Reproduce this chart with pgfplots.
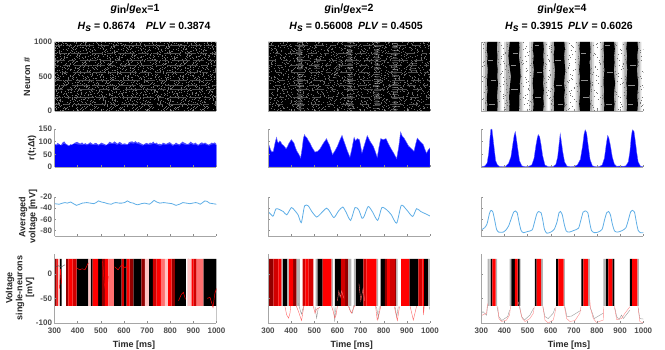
\documentclass[border=0pt]{standalone}
\usepackage{pgfplots}
\pgfplotsset{compat=1.18}
\usepackage{fontspec}
\setmainfont{Liberation Sans}

\definecolor{avgblue}{HTML}{5FAEE6}
\definecolor{Dk}{HTML}{920000}
\definecolor{Md}{HTML}{D20000}
\definecolor{Br}{HTML}{FF0000}
\definecolor{Pk}{HTML}{FF7070}
\definecolor{Lt}{HTML}{FFC4C4}
\definecolor{Gy}{HTML}{B4B4B4}

\pgfplotsset{
  panel/.style={
    scale only axis, width=162pt,
    xmin=300, xmax=1000, xtick={300,400,...,1000},
    axis lines=left, axis line style={-,black!35,line width=0.5pt},
    tick align=inside, major tick length=1.5pt,
    tick style={black!45,line width=0.4pt},
    tick label style={font=\bfseries\fontsize{8}{9}\selectfont,text=black!70},
    /pgf/number format/assume math mode=true,
    /pgf/number format/1000 sep={},
    xticklabels={}, axis on top, anchor=south west,
    xticklabel style={yshift=-1pt},
    yticklabel style={xshift=1pt},
  },
  raster/.style={panel, height=69pt, ymin=0, ymax=1000, ytick={0,500,1000}},
  rate/.style={panel, height=38pt, ymin=0, ymax=150, ytick={0,50,100,150}},
  avg/.style={panel, height=39pt, ymin=-90, ymax=-20, ytick={-80,-60,-40,-20}},
  volt/.style={panel, height=69pt, ymin=-100, ymax=40, ytick={-100,-50,0},
    xticklabels={300,400,500,600,700,800,900,1000}},
  nolab/.style={yticklabels={}},
  rowline/.style={draw=#1, line width=0.4pt, unbounded coords=jump},
}

% one band per colour, value high from x to the next x
\newcommand{\band}[2]{\addplot[const plot,fill=#1,draw=none] coordinates {(250,-100) #2 (1100,-100)} --cycle;}
\newcommand{\rband}[2]{\addplot[const plot,fill=#1,draw=none] coordinates {#2} \closedcycle;}
\newcommand{\voltfloor}{\addplot[fill=white,draw=none] coordinates {(250,-66)(1100,-66)(1100,-120)(250,-120)} --cycle;}

% rows of neurons in the raster plots
\def\rowsA{(283,7)(1000,7)(300,nan)(171,22)(1000,22)(300,nan)(296,36)(1000,36)(300,nan)(62,51)(1000,51)(300,nan)
(188,65)(1000,65)(300,nan)(276,79)(1000,79)(300,nan)(99,94)(1000,94)(300,nan)(265,108)(1000,108)(300,nan)
(181,123)(1000,123)(300,nan)(41,137)(1000,137)(300,nan)(269,152)(1000,152)(300,nan)(135,166)(1000,166)(300,nan)
(258,181)(1000,181)(300,nan)(94,195)(1000,195)(300,nan)(223,210)(1000,210)(300,nan)(17,224)(1000,224)(300,nan)
(164,239)(1000,239)(300,nan)(297,253)(1000,253)(300,nan)(78,268)(1000,268)(300,nan)(210,282)(1000,282)(300,nan)
(120,297)(1000,297)(300,nan)(270,311)(1000,311)(300,nan)(34,326)(1000,326)(300,nan)(196,340)(1000,340)(300,nan)
(148,355)(1000,355)(300,nan)(275,369)(1000,369)(300,nan)(61,384)(1000,384)(300,nan)(239,398)(1000,398)(300,nan)
(109,413)(1000,413)(300,nan)(167,427)(1000,427)(300,nan)(293,442)(1000,442)(300,nan)(22,456)(1000,456)(300,nan)
(186,471)(1000,471)(300,nan)(259,485)(1000,485)(300,nan)(85,500)(1000,500)(300,nan)(127,514)(1000,514)(300,nan)
(213,529)(1000,529)(300,nan)(52,543)(1000,543)(300,nan)(280,558)(1000,558)(300,nan)(158,572)(1000,572)(300,nan)
(29,587)(1000,587)(300,nan)(234,601)(1000,601)(300,nan)(107,616)(1000,616)(300,nan)(288,630)(1000,630)(300,nan)
(72,645)(1000,645)(300,nan)(175,659)(1000,659)(300,nan)(246,674)(1000,674)(300,nan)(11,688)(1000,688)(300,nan)
(139,703)(1000,703)(300,nan)(260,717)(1000,717)(300,nan)(91,732)(1000,732)(300,nan)(203,746)(1000,746)(300,nan)
(49,761)(1000,761)(300,nan)(298,775)(1000,775)(300,nan)(153,790)(1000,790)(300,nan)(115,804)(1000,804)(300,nan)
(224,819)(1000,819)(300,nan)(68,833)(1000,833)(300,nan)(267,848)(1000,848)(300,nan)(37,862)(1000,862)(300,nan)
(183,877)(1000,877)(300,nan)(97,891)(1000,891)(300,nan)(258,906)(1000,906)(300,nan)(131,920)(1000,920)(300,nan)
(25,935)(1000,935)(300,nan)(216,949)(1000,949)(300,nan)(75,964)(1000,964)(300,nan)(295,978)(1000,978)(300,nan)
(144,993)(1000,993)(300,nan)}
\def\streaks{(276,92)(1000,92)(300,nan)(291,314)(1000,314)(300,nan)(265,377)(1000,377)(300,nan)(283,449)(1000,449)(300,nan)
(270,667)(1000,667)(300,nan)(296,739)(1000,739)(300,nan)(261,835)(1000,835)(300,nan)(287,947)(1000,947)(300,nan)
(279,205)(1000,205)(300,nan)(268,560)(1000,560)(300,nan)}

\begin{document}
\begin{tikzpicture}
\path[use as bounding box] (0pt,0pt) rectangle (665pt,350pt);

% ---------- column 1
\begin{axis}[raster, at={(54.5pt,239pt)}]
\rband{black}{(300,1000)(1000,0)}
\addplot[rowline=white!45!black, dash pattern=on 0.5pt off 2.4pt on 0.8pt off 6.1pt on 0.4pt off 1.7pt on 1.6pt off 9.3pt on 0.6pt off 4.1pt on 0.4pt off 3.3pt on 1.1pt off 7.7pt on 0.5pt off 2.9pt on 0.5pt off 11.3pt] coordinates {\rowsA};
\addplot[rowline=white!32!black, line width=0.5pt, dash pattern=on 11pt off 4pt on 6pt off 5pt on 17pt off 3.5pt] coordinates {\streaks};
\end{axis}
\begin{axis}[rate, at={(54.5pt,183pt)}]
\addplot[fill=blue!70,draw=none] coordinates {(300,92)(307,88)(314,95)(321,90)(328,86)(335,97)(342,101)(349,92)(356,88)(363,84)(370,90)(377,84)(384,94)(391,97)(398,99)(405,95)(412,92)(419,97)(426,90)(433,94)(440,90)(447,92)(454,98)(461,93)(468,90)(475,95)(482,94)(489,88)(496,91)(503,96)(510,93)(517,90)(524,87)(531,92)(538,100)(545,96)(552,95)(559,101)(566,96)(573,92)(580,99)(587,96)(594,90)(601,93)(608,92)(615,88)(622,98)(629,100)(636,101)(643,97)(650,102)(657,96)(664,98)(671,94)(678,91)(685,88)(692,93)(699,95)(706,91)(713,96)(720,94)(727,100)(734,92)(741,96)(748,90)(755,92)(762,89)(769,96)(776,93)(783,91)(790,95)(797,98)(804,94)(811,88)(818,90)(825,96)(832,92)(839,89)(846,94)(853,100)(860,96)(867,93)(874,90)(881,93)(888,100)(895,95)(902,92)(909,96)(916,90)(923,88)(930,94)(937,97)(944,93)(951,96)(958,92)(965,88)(972,91)(979,96)(986,94)(993,97)(1000,90)} \closedcycle;
\addplot[fill=blue,draw=none] coordinates {(300,87)(310,85)(320,89)(330,84)(340,92)(350,88)(360,82)(370,86)(380,90)(390,91)(400,89)(410,88)(420,87)(430,89)(440,85)(450,90)(460,88)(470,86)(480,88)(490,84)(500,89)(510,87)(520,84)(530,88)(540,92)(550,90)(560,92)(570,87)(580,91)(590,86)(600,88)(610,86)(620,90)(630,94)(640,92)(650,94)(660,91)(670,88)(680,84)(690,88)(700,89)(710,87)(720,89)(730,92)(740,89)(750,85)(760,84)(770,89)(780,87)(790,89)(800,90)(810,83)(820,87)(830,88)(840,84)(850,92)(860,89)(870,86)(880,87)(890,91)(900,87)(910,89)(920,83)(930,88)(940,89)(950,90)(960,86)(970,84)(980,89)(990,90)(1000,86)} \closedcycle;
\end{axis}
\begin{axis}[avg, at={(54.5pt,114pt)}]
\addplot[avgblue,line width=0.8pt] coordinates {(300,-32)(320,-33)(335,-31)(345,-30)(355,-31)(370,-29)(382,-32)(395,-35)(408,-33)(420,-31)(440,-30)(455,-31)(470,-32)(480,-30)(490,-27)(503,-29)(515,-30)(530,-32)(545,-33)(555,-31)(565,-30)(580,-31)(590,-31)(603,-30)(615,-27)(628,-30)(640,-31)(650,-33)(660,-34)(675,-32)(690,-31)(700,-32)(710,-33)(720,-30)(730,-26)(742,-29)(755,-31)(772,-30)(790,-31)(808,-32)(825,-35)(840,-33)(855,-30)(870,-31)(885,-32)(897,-31)(910,-30)(920,-31)(930,-33)(940,-30)(950,-27)(960,-28)(970,-31)(985,-32)(1000,-33)};
\end{axis}
\begin{axis}[volt, at={(54.5pt,27pt)}]
\band{black}{(322,30)(331,-100)(396,30)(446,-100)(456,30)(465,-100)(489,30)(505,-100)(557,30)(590,-100)(600,30)(612,-100)(641,30)(675,-100)(708,30)(725,-100)(820,30)(868,-100)(943,30)(1000,-100)}
\band{Dk}{(300,30)(309,-100)(350,30)(360,-100)(505,30)(518,-100)(625,30)(641,-100)(675,30)(691,-100)(806,30)(820,-100)(876,30)(880,-100)}
\band{Md}{(378,30)(396,-100)(590,30)(600,-100)(725,30)(741,-100)(900,30)(914,-100)}
\band{Br}{(309,30)(315,-100)(360,30)(378,-100)(465,30)(489,-100)(518,30)(533,-100)(612,30)(625,-100)(741,30)(760,-100)(790,30)(806,-100)(892,30)(900,-100)}
\band{Pk}{(533,30)(557,-100)(760,30)(777,-100)(914,30)(943,-100)}
\band{Lt}{(315,30)(322,-100)(446,30)(456,-100)(691,30)(708,-100)(777,30)(790,-100)(876,30)(892,-100)}
\voltfloor
\addplot[black!70,line width=0.4pt] coordinates {(305,14)(318,16)(330,14)(345,18)};
\addplot[Br,line width=0.5pt,unbounded coords=jump] coordinates {(396,12)(408,8)(420,10)(432,8)(446,22)(300,nan)(322,-30)(326,10)(331,-20)(300,nan)(508,25)(515,-20)(525,-45)(532,-5)(300,nan)(836,-55)(848,-42)(857,-38)(866,-52)(300,nan)(960,-50)(972,-48)(985,-68)(993,-40)(1000,-30)(300,nan)(560,14)(575,8)(590,18)(605,12)(620,20)};
\end{axis}

% ---------- column 2
\begin{axis}[raster, nolab, at={(268pt,239pt)}]
\rband{black}{(300,1000)(1000,0)}
\addplot[rowline=white!42!black, dash pattern=on 0.5pt off 3.4pt on 0.8pt off 8.1pt on 0.4pt off 2.7pt on 1.6pt off 12.3pt on 0.6pt off 5.1pt on 0.4pt off 4.3pt on 1.1pt off 9.7pt on 0.5pt off 3.9pt on 0.5pt off 14.3pt] coordinates {\rowsA};
\addplot[draw=white,line width=6pt,opacity=0.25,unbounded coords=jump,dash pattern=on 0.4pt off 1.7pt on 0.7pt off 2.9pt on 0.4pt off 1.2pt] coordinates {(438,0)(438,1000)(300,nan)(654,0)(654,1000)(300,nan)(770,0)(770,1000)(300,nan)(849,-10)(849,1000)(300,nan)(510,760)(510,560)(300,nan)(925,700)(925,520)(300,nan)};
\addplot[draw=white,line width=3pt,opacity=0.45,unbounded coords=jump,dash pattern=on 0.5pt off 2.3pt on 0.4pt off 1.4pt] coordinates {(438,1000)(438,0)(300,nan)(849,0)(849,1000)(300,nan)(654,1000)(654,300)(300,nan)(770,1000)(770,100)(300,nan)(590,480)(615,760)(300,nan)};
\addplot[rowline=white!32!black, dash pattern=on 9pt off 7pt on 5pt off 9pt on 13pt off 6pt] coordinates {\streaks};
\end{axis}
\begin{axis}[rate, nolab, at={(268pt,183pt)}]
\addplot[fill=blue,draw=blue!60,line width=0.4pt] coordinates {(300,95)(306,82)(311,68)(317,59)(323,62)(327,80)(332,101)(337,117)(341,100)(346,95)(350,103)(355,99)(360,90)(366,86)(372,80)(378,72)(384,80)(389,91)(395,100)(401,108)(406,102)(412,95)(418,78)(424,64)(432,52)(441,36)(447,70)(453,114)(458,128)(462,120)(467,117)(474,105)(481,95)(490,78)(503,59)(514,62)(525,72)(538,92)(553,112)(559,98)(565,88)(572,68)(579,49)(590,65)(600,82)(610,105)(620,125)(625,110)(631,95)(642,66)(654,39)(662,70)(672,117)(678,104)(686,112)(695,108)(701,80)(706,55)(716,85)(729,124)(742,100)(755,82)(764,60)(772,38)(780,80)(787,112)(798,108)(810,112)(820,92)(830,75)(843,55)(856,33)(865,80)(873,138)(880,122)(888,114)(898,98)(908,82)(920,72)(931,62)(938,90)(945,114)(958,100)(971,88)(978,70)(985,55)(993,68)(1000,75)} \closedcycle;
\end{axis}
\begin{axis}[avg, nolab, at={(268pt,114pt)}]
\addplot[avgblue,line width=0.8pt,smooth,tension=0.4] coordinates {(300,-46)(317,-53)(323,-54)(335,-41)(352,-43)(366,-46)(381,-52)(401,-39)(415,-44)(430,-52)(444,-66)(458,-36)(474,-36)(489,-46)(510,-56)(525,-51)(553,-40)(568,-47)(585,-57)(605,-45)(623,-38)(637,-47)(657,-62)(676,-39)(692,-43)(706,-58)(715,-55)(733,-37)(752,-47)(774,-62)(792,-39)(813,-43)(833,-52)(856,-67)(876,-35)(899,-43)(925,-55)(942,-41)(960,-46)(985,-51)(1000,-54)};
\end{axis}
\begin{axis}[volt, nolab, at={(268pt,27pt)}]
\band{black}{(363,30)(384,-100)(513,30)(536,-100)(589,30)(615,-100)(679,30)(712,-100)(787,30)(805,-100)(911,30)(950,-100)(974,30)(993,-100)}
\band{Dk}{(300,30)(323,-100)(409,30)(424,-100)(633,30)(647,-100)(805,30)(815,-100)(849,30)(855,-100)}
\band{Md}{(323,30)(345,-100)(450,30)(462,-100)(615,30)(633,-100)(712,30)(725,-100)(827,30)(849,-100)(950,30)(967,-100)(474,30)(496,-100)}
\band{Br}{(345,30)(359,-100)(389,30)(409,-100)(462,30)(474,-100)(536,30)(575,-100)(725,30)(769,-100)(815,30)(827,-100)(875,30)(911,-100)(967,30)(974,-100)}
\band{Gy}{(359,30)(363,-100)(384,30)(389,-100)(424,30)(438,-100)(506,30)(513,-100)(575,30)(580,-100)(647,30)(660,-100)(671,30)(679,-100)(769,30)(776,-100)(855,30)(860,-100)(993,30)(1000,-100)}
\voltfloor
\addplot[black!40,line width=0.4pt,unbounded coords=jump] coordinates {(431,-60)(441,-77)(445,-82)(450,-72)(455,-66)(300,nan)(503,-67)(510,-90)(517,-70)(300,nan)(585,-67)(588,-97)(594,-67)(300,nan)(651,-67)(657,-77)(665,-80)(671,-64)(300,nan)(769,-67)(777,-90)(781,-67)(300,nan)(849,-67)(856,-87)(863,-67)(300,nan)(997,-67)(1000,-73)};
\addplot[Br!60,line width=0.4pt,unbounded coords=jump] coordinates {(373,-66)(381,-84)(389,-90)(395,-80)(398,-66)(300,nan)(421,-64)(432,-77)(445,-95)(450,-80)(456,-64)(300,nan)(496,-66)(503,-80)(510,-72)(525,-68)(300,nan)(575,-66)(582,-77)(588,-90)(594,-84)(600,-66)(300,nan)(647,-66)(654,-74)(661,-80)(669,-70)(676,-64)(300,nan)(765,-66)(772,-94)(781,-80)(787,-66)(300,nan)(846,-67)(859,-95)(868,-67)(300,nan)(914,-66)(928,-94)(942,-66)(300,nan)(971,-66)(972,-84)(975,-66)(300,nan)(600,-55)(606,-35)(612,-48)(618,-35)(628,-50)(300,nan)(693,-20)(701,-55)(711,-30)(718,-55)};
\end{axis}

% ---------- column 3
\begin{axis}[raster, nolab, at={(481.3pt,239pt)}]
\rband{black!14}{(308,1000)(387,0)(399,1000)(482,0)(507,1000)(586,0)(596,1000)(677,0)(708,1000)(787,0)(812,1000)(891,0)(910,1000)(992,0)}
\rband{black!32}{(316,1000)(379,0)(407,1000)(474,0)(515,1000)(578,0)(604,1000)(669,0)(716,1000)(779,0)(820,1000)(883,0)(918,1000)(984,0)}
\addplot[rowline=black!55, line width=0.4pt, dash pattern=on 0.4pt off 11.4pt on 0.4pt off 19.2pt on 0.4pt off 7.3pt on 0.4pt off 14.1pt on 0.4pt off 23.3pt] coordinates {\rowsA};
\addplot[fill=black,draw=none] coordinates {(326,1000)(324,900)(327,800)(325,700)(328,600)(326,500)(325,400)(327,300)(324,200)(326,100)(325,0)(369,0)(371,100)(368,200)(370,300)(372,400)(369,500)(371,600)(368,700)(370,800)(367,900)(369,1000)} --cycle;
\addplot[fill=black,draw=none] coordinates {(423,1000)(420,900)(417,800)(420,700)(424,600)(428,500)(425,400)(422,300)(420,200)(422,100)(421,0)(462,0)(465,100)(464,200)(467,300)(466,400)(470,500)(468,600)(466,700)(462,800)(465,900)(463,1000)} --cycle;
\addplot[fill=black,draw=none] coordinates {(525,1000)(523,900)(526,800)(524,700)(527,600)(525,500)(522,400)(525,300)(524,200)(526,100)(524,0)(567,0)(570,100)(568,200)(570,300)(567,400)(569,500)(567,600)(570,700)(568,800)(570,900)(568,1000)} --cycle;
\addplot[fill=black,draw=none] coordinates {(614,1000)(616,900)(613,800)(615,700)(618,600)(617,500)(614,400)(616,300)(613,200)(615,100)(614,0)(657,0)(660,100)(658,200)(661,300)(658,400)(660,500)(663,600)(660,700)(658,800)(661,900)(659,1000)} --cycle;
\addplot[fill=black,draw=none] coordinates {(726,1000)(724,900)(727,800)(725,700)(723,600)(726,500)(724,400)(727,300)(725,200)(723,100)(726,0)(769,0)(771,100)(768,200)(770,300)(772,400)(769,500)(771,600)(768,700)(770,800)(772,900)(769,1000)} --cycle;
\addplot[fill=black,draw=none] coordinates {(830,1000)(828,900)(831,800)(829,700)(832,600)(830,500)(828,400)(831,300)(829,200)(832,100)(830,0)(873,0)(876,100)(873,200)(875,300)(878,400)(875,500)(873,600)(876,700)(874,800)(877,900)(874,1000)} --cycle;
\addplot[fill=black,draw=none] coordinates {(929,1000)(927,900)(930,800)(928,700)(931,600)(929,500)(927,400)(930,300)(928,200)(930,100)(928,0)(974,0)(977,100)(974,200)(976,300)(978,400)(975,500)(973,600)(976,700)(974,800)(977,900)(975,1000)} --cycle;
% short light streaks inside the bursts
\addplot[rowline=black!45, line width=0.4pt] coordinates {(332,92)(358,92)(300,nan)(340,449)(365,449)(300,nan)(330,739)(352,739)(300,nan)(430,314)(458,314)(300,nan)(428,667)(450,667)(300,nan)(436,835)(460,835)(300,nan)(532,205)(556,205)(300,nan)(540,560)(562,560)(300,nan)(530,947)(550,947)(300,nan)(622,377)(650,377)(300,nan)(630,92)(655,92)(300,nan)(620,739)(644,739)(300,nan)(732,449)(760,449)(300,nan)(740,205)(765,205)(300,nan)(730,835)(752,835)(300,nan)(838,92)(866,92)(300,nan)(845,560)(870,560)(300,nan)(836,947)(858,947)(300,nan)(936,377)(962,377)(300,nan)(942,667)(970,667)(300,nan)(934,92)(955,92)(300,nan)};
\end{axis}
\begin{axis}[rate, nolab, at={(481.3pt,183pt)}]
\addplot[fill=blue,draw=blue!60,line width=0.3pt] coordinates {(300,1)(315,4)(325,15)(332,55)(337,110)(341,148)(346,150)(350,120)(355,80)(362,25)(370,8)(380,2)(395,1)(405,3)(418,15)(428,40)(436,90)(442,125)(447,140)(452,110)(458,70)(465,25)(475,5)(490,1)(505,3)(518,8)(528,35)(536,85)(542,115)(546,128)(552,120)(558,90)(565,45)(575,8)(590,1)(610,2)(622,10)(630,40)(636,90)(641,132)(646,100)(652,60)(660,20)(670,4)(685,1)(700,2)(715,8)(728,30)(738,85)(744,130)(749,147)(755,135)(762,85)(770,30)(780,5)(795,1)(810,2)(822,8)(832,35)(840,90)(846,125)(851,115)(858,85)(866,40)(875,12)(885,3)(900,4)(915,3)(925,5)(935,20)(942,60)(948,120)(953,147)(960,140)(966,100)(972,55)(978,20)(988,3)(1000,1)} \closedcycle;
\end{axis}
\begin{axis}[avg, nolab, at={(481.3pt,114pt)}]
\addplot[avgblue,line width=0.8pt,smooth,tension=0.4] coordinates {(300,-79)(315,-75)(325,-68)(335,-50)(342,-44)(350,-47)(358,-62)(366,-78)(375,-83)(395,-83)(405,-80)(418,-72)(430,-58)(440,-47)(447,-45)(455,-48)(463,-65)(472,-80)(482,-84)(500,-82)(520,-79)(530,-65)(540,-50)(548,-46)(558,-48)(565,-60)(573,-78)(583,-85)(600,-83)(615,-78)(627,-65)(636,-48)(642,-46)(650,-52)(658,-68)(667,-81)(680,-83)(700,-80)(720,-76)(730,-62)(740,-47)(749,-45)(760,-48)(768,-65)(776,-80)(788,-84)(805,-83)(822,-78)(832,-62)(842,-48)(850,-46)(858,-52)(866,-68)(876,-81)(890,-83)(910,-80)(925,-75)(935,-62)(945,-47)(954,-44)(962,-47)(970,-65)(978,-80)(988,-84)(1000,-84)};
\end{axis}
\begin{axis}[volt, nolab, at={(481.3pt,27pt)}]
\band{Gy}{(327,30)(336,-100)(362,30)(368,-100)(422,30)(430,-100)(466,30)(470,-100)(559,30)(566,-100)(656,30)(661,-100)(762,30)(769,-100)(828,30)(839,-100)(873,30)(877,-100)(974,30)(981,-100)}
\band{black}{(340,30)(348,-100)(430,30)(445,-100)(457,30)(466,-100)(532,30)(539,-100)(623,30)(633,-100)(732,30)(741,-100)(839,30)(849,-100)(866,30)(873,-100)(942,30)(952,-100)}
\band{Br}{(348,30)(362,-100)(445,30)(457,-100)(539,30)(559,-100)(633,30)(656,-100)(741,30)(762,-100)(849,30)(866,-100)(952,30)(974,-100)}
\voltfloor
\addplot[black!40,line width=0.4pt,unbounded coords=jump] coordinates {(300,-80)(307,-77)(323,-84)(327,-64)(300,nan)(368,-67)(376,-87)(388,-95)(414,-87)(422,-74)(300,nan)(466,-67)(474,-87)(486,-94)(510,-84)(526,-70)(300,nan)(566,-67)(575,-87)(589,-91)(611,-80)(618,-70)(300,nan)(661,-67)(670,-87)(690,-86)(731,-74)(300,nan)(769,-67)(780,-80)(788,-91)(827,-80)(300,nan)(877,-70)(885,-87)(895,-93)(906,-84)(914,-91)(942,-74)(300,nan)(978,-70)(985,-91)(1000,-92)};
\addplot[Br!45,line width=0.4pt,unbounded coords=jump] coordinates {(300,-85)(323,-80)(327,-60)(300,nan)(371,-66)(376,-91)(388,-97)(409,-94)(422,-84)(427,-64)(300,nan)(460,-57)(468,-74)(477,-91)(489,-97)(510,-91)(525,-80)(529,-67)(300,nan)(566,-66)(575,-94)(589,-100)(611,-94)(618,-80)(623,-67)(300,nan)(659,-66)(669,-91)(683,-97)(705,-95)(726,-80)(731,-67)(300,nan)(767,-43)(772,-70)(784,-91)(798,-99)(827,-94)(828,-67)(300,nan)(875,-66)(885,-93)(906,-91)(921,-80)(942,-67)(300,nan)(977,-66)(985,-97)(1000,-100)};
\end{axis}

% ---------- labels
\tikzset{lab/.style={font=\bfseries\fontsize{9}{10}\selectfont,text=black!85,align=center,inner sep=0pt}}
\node[lab,rotate=90] at (27pt,273pt) {Neuron \#};
\node[lab,rotate=90] at (32pt,202pt) {r(t;Δt)};
\node[lab,rotate=90] at (28pt,133pt) {Averaged\\voltage [mV]};
\node[lab,rotate=90] at (20pt,62pt) {Voltage\\single-neurons\\{[mV]}};
\node[lab] at (134pt,5pt) {Time [ms]};
\node[lab] at (351.7pt,5pt) {Time [ms]};
\node[lab] at (569pt,5pt) {Time [ms]};

\tikzset{ttl/.style={font=\bfseries\fontsize{10.5}{12}\selectfont,inner sep=0pt}}
\newcommand{\gratio}[1]{\textit{g}\raisebox{-2.5pt}{in}/\textit{g}\raisebox{-2.5pt}{ex}=#1}
\node[ttl] at (135pt,341pt) {\gratio{1}};
\node[ttl] at (144pt,323pt) {\textit{H}\raisebox{-2.5pt}{\textit{s}} = 0.8674\quad\textit{PLV} = 0.3874};
\node[ttl] at (349pt,341pt) {\gratio{2}};
\node[ttl] at (356pt,323pt) {\textit{H}\raisebox{-2.5pt}{\textit{s}} = 0.56008\enspace\textit{PLV} = 0.4505};
\node[ttl] at (562pt,341pt) {\gratio{4}};
\node[ttl] at (569pt,323pt) {\textit{H}\raisebox{-2.5pt}{\textit{s}} = 0.3915\enspace\textit{PLV} = 0.6026};
\end{tikzpicture}
\end{document}
